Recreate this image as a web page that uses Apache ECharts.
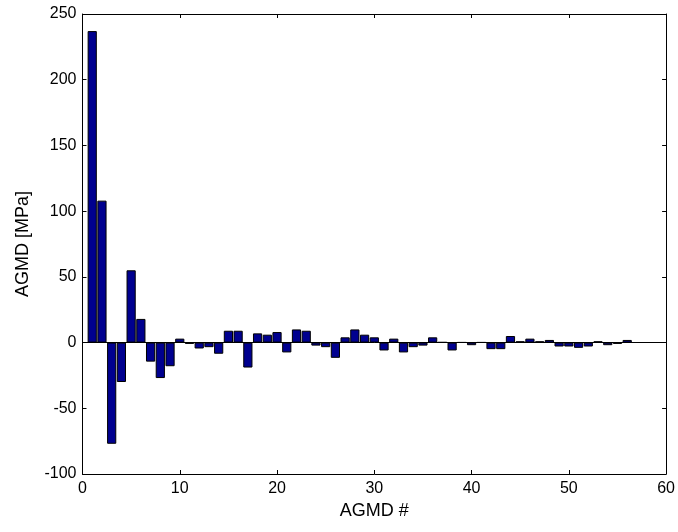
<!DOCTYPE html>
<html>
<head>
<meta charset="utf-8">
<script src="https://cdn.jsdelivr.net/npm/echarts@6/dist/echarts.min.js"></script>
<style>html,body{margin:0;padding:0;background:#fff;}#c{width:678px;height:532px;}</style>
</head>
<body>
<div id="c"></div>
<script>
const agmdIndex = [1,2,3,4,5,6,7,8,9,10,11,12,13,14,15,16,17,18,19,20,21,22,23,24,25,26,27,28,29,30,31,32,33,34,35,36,37,38,39,40,41,42,43,44,45,46,47,48,49,50,51,52,53,54,55,56];
const agmdValues = [237,108,-77,-30,55,18,-14.5,-27,-18,3,-1,-4.5,-3.5,-8.5,9,9,-19,7,6,8,-7.5,10,9,-2.3,-3.5,-11.6,4,10,6,4,-6,3,-7.5,-3.5,-2.3,4,0.3,-6,0.2,-2,0.2,-5,-5,5,1,3,1,2,-3,-3,-4,-3,1,-2,-1,2];
const xTicks = [0,10,20,30,40,50,60];
const yTicks = [-100,-50,0,50,100,150,200,250];

const font = 'Liberation Sans, Arial, sans-serif';
const chart = echarts.init(document.getElementById('c'));
const data = agmdIndex.map((x, i) => [x, agmdValues[i]]);
const axLine = {show: true, lineStyle: {color: '#000', width: 1}};
const tick = {show: true, inside: true, length: 4, lineStyle: {color: '#000'}};
chart.setOption({
  animation: false,
  grid: {left: 82.5, right: 10, top: 14, bottom: 58},
  xAxis: [{
    type: 'value', min: xTicks[0], max: xTicks[xTicks.length-1], interval: 10,
    position: 'bottom',
    axisLine: Object.assign({onZero: false}, axLine), axisTick: tick, splitLine: {show: false},
    axisLabel: {color: '#000', fontSize: 16, fontFamily: font, margin: 7},
    name: 'AGMD #', nameLocation: 'middle', nameGap: 25,
    nameTextStyle: {color: '#000', fontSize: 18, fontFamily: font}
  }, {
    type: 'value', min: xTicks[0], max: xTicks[xTicks.length-1], interval: 10,
    position: 'top',
    axisLine: Object.assign({onZero: false}, axLine), axisTick: tick, splitLine: {show: false},
    axisLabel: {show: false}
  }],
  yAxis: [{
    type: 'value', min: yTicks[0], max: yTicks[yTicks.length-1], interval: 50,
    position: 'left',
    axisLine: Object.assign({onZero: false}, axLine), axisTick: tick, splitLine: {show: false},
    axisLabel: {color: '#000', fontSize: 16, fontFamily: font, margin: 6},
    name: 'AGMD [MPa]', nameLocation: 'middle', nameGap: 50,
    nameTextStyle: {color: '#000', fontSize: 18, fontFamily: font}
  }, {
    type: 'value', min: yTicks[0], max: yTicks[yTicks.length-1], interval: 50,
    position: 'right',
    axisLine: Object.assign({onZero: false}, axLine), axisTick: tick, splitLine: {show: false},
    axisLabel: {show: false}
  }],
  series: [{
    type: 'bar',
    xAxisIndex: 0, yAxisIndex: 0,
    data: data,
    barWidth: 9.2,
    itemStyle: {color: '#00008F', borderColor: '#000', borderWidth: 1},
    markLine: {
      silent: true, symbol: 'none', label: {show: false},
      lineStyle: {color: '#000', width: 1, type: 'solid'},
      data: [{yAxis: 0}]
    },
    z: 2
  }]
});
</script>
</body>
</html>
